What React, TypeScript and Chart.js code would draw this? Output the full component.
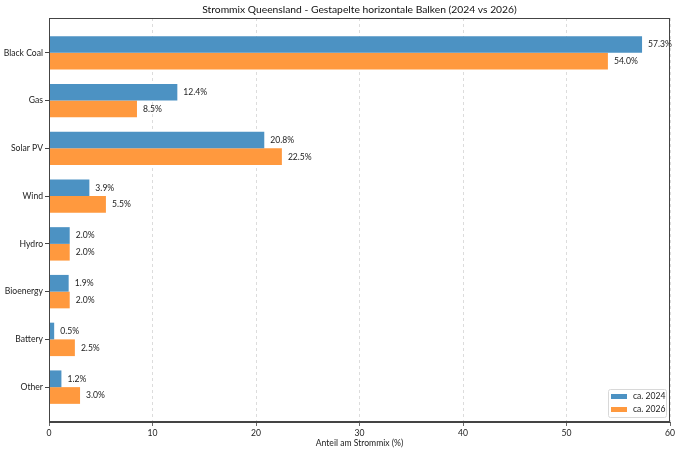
import { useEffect, useRef } from "react";
import { Chart, registerables } from "chart.js";

Chart.register(...registerables);

const categories = ["Black Coal", "Gas", "Solar PV", "Wind", "Hydro", "Bioenergy", "Battery", "Other"];
const share2024 = [57.3, 12.4, 20.8, 3.9, 2.0, 1.9, 0.5, 1.2];
const share2026 = [54.0, 8.5, 22.5, 5.5, 2.0, 2.0, 2.5, 3.0];
const seriesLabels = ["ca. 2024", "ca. 2026"];
const xTicks = [0, 10, 20, 30, 40, 50, 60];

const FONT = "Lato, 'Noto Sans', sans-serif";
const BLUE = "#4c92c3";
const ORANGE = "#ff993e";

const extras = {
    id: "extras",
    afterDatasetsDraw(chart: any) {
        const { ctx, chartArea } = chart;
        ctx.save();
        // value labels
        ctx.font = `8.6px ${FONT}`;
        ctx.fillStyle = "#222";
        ctx.textBaseline = "middle";
        ctx.textAlign = "left";
        chart.data.datasets.forEach((ds: any, i: number) => {
            const meta = chart.getDatasetMeta(i);
            meta.data.forEach((bar: any, j: number) => {
                ctx.fillText(`${ds.data[j].x.toFixed(1)}%`, bar.x + 6, bar.y);
            });
        });
        // spines
        ctx.strokeStyle = "#444";
        ctx.lineWidth = 1;
        ctx.strokeRect(chartArea.left + 0.5, chartArea.top + 0.5, chartArea.right - chartArea.left - 1, chartArea.bottom - chartArea.top - 1);
        // title
        ctx.font = `10.3px ${FONT}`;
        ctx.textAlign = "center";
        ctx.fillStyle = "#111";
        ctx.fillText("Strommix Queensland - Gestapelte horizontale Balken (2024 vs 2026)", (chartArea.left + chartArea.right) / 2, 10);
        // legend
        const w = 58, h = 28;
        const lx = chartArea.right - 4 - w;
        const ly = chartArea.bottom - 5 - h;
        ctx.fillStyle = "rgba(255,255,255,0.85)";
        ctx.strokeStyle = "#d8d8d8";
        ctx.beginPath();
        ctx.roundRect(lx + 0.5, ly + 0.5, w, h, 2);
        ctx.fill();
        ctx.stroke();
        ctx.font = `8.6px ${FONT}`;
        ctx.textAlign = "left";
        [BLUE, ORANGE].forEach((c, k) => {
            const yy = ly + 7.5 + k * 13;
            ctx.fillStyle = c;
            ctx.fillRect(lx + 3, yy - 2.5, 16, 5);
            ctx.fillStyle = "#222";
            ctx.fillText(seriesLabels[k], lx + 25, yy);
        });
        ctx.restore();
    },
};

export default function App() {
    const chartRef = useRef<HTMLCanvasElement>(null);
    const chartInstanceRef = useRef<Chart | null>(null);

    useEffect(() => {
        document.body.style.margin = "0";
        const ctx = chartRef.current?.getContext("2d");
        if (ctx && !chartInstanceRef.current) {
            chartInstanceRef.current = new Chart(ctx, {
                type: "bar",
                data: {
                    datasets: [
                        {
                            label: seriesLabels[0],
                            data: share2024.map((v, i) => ({ x: v, y: i })),
                            backgroundColor: BLUE,
                            categoryPercentage: 0.7,
                            barPercentage: 1.0,
                        },
                        {
                            label: seriesLabels[1],
                            data: share2026.map((v, i) => ({ x: v, y: i })),
                            backgroundColor: ORANGE,
                            categoryPercentage: 0.7,
                            barPercentage: 1.0,
                        },
                    ],
                },
                options: {
                    indexAxis: "y",
                    animation: false,
                    responsive: true,
                    maintainAspectRatio: false,
                    layout: { padding: { top: 18, right: 10, bottom: 0, left: 0 } },
                    scales: {
                        x: {
                            type: "linear",
                            min: 0,
                            max: 60,
                            afterBuildTicks: (axis: any) => {
                                axis.ticks = xTicks.map((v) => ({ value: v }));
                            },
                            afterFit: (axis: any) => {
                                axis.height = 31;
                            },
                            grid: {
                                color: "#d4d4d4",
                                tickColor: "#444",
                                tickLength: 4,
                                lineWidth: 0.8,
                            },
                            border: { display: true, color: "#444", dash: [3, 3] },
                            ticks: { color: "#222", font: { family: FONT, size: 8.6 }, padding: 2 },
                            title: {
                                display: true,
                                text: "Anteil am Strommix (%)",
                                color: "#222",
                                font: { family: FONT, size: 8.6 },
                                padding: { top: 0, bottom: 5 },
                            },
                        },
                        y: {
                            type: "linear",
                            reverse: true,
                            offset: false,
                            min: -0.73,
                            max: 7.73,
                            afterBuildTicks: (axis: any) => {
                                axis.ticks = categories.map((_, i) => ({ value: i }));
                            },
                            afterFit: (axis: any) => {
                                axis.width = 49;
                            },
                            grid: {
                                offset: false,
                                drawOnChartArea: false,
                                tickColor: "#444",
                                tickLength: 4,
                            },
                            border: { display: true, color: "#444" },
                            ticks: {
                                color: "#222",
                                font: { family: FONT, size: 8.6 },
                                padding: 2,
                                callback: (value: any) => categories[value as number] ?? "",
                            },
                        },
                    },
                    plugins: {
                        legend: { display: false },
                        tooltip: { enabled: false },
                    },
                },
                plugins: [extras],
            });
        }
        return () => {
            if (chartInstanceRef.current) {
                chartInstanceRef.current.destroy();
                chartInstanceRef.current = null;
            }
        };
    }, []);

    return (
        <div style={{ width: 680, height: 453, position: "relative", background: "#fff" }}>
            <canvas ref={chartRef} />
        </div>
    );
}
